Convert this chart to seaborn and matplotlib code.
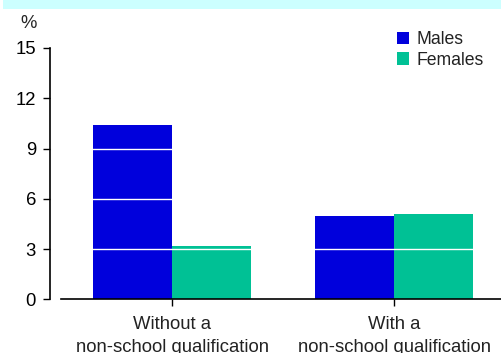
import matplotlib
matplotlib.use("Agg")
import matplotlib.pyplot as plt
from matplotlib.patches import Rectangle
import seaborn as sns
import pandas as pd

# Unemployment rate (%) by qualification status and sex
categories = ["Without a\nnon-school qualification", "With a\nnon-school qualification"]
males = [10.4, 5.0]
females = [3.2, 5.1]
series_names = ["Males", "Females"]
colors = ["#0000DC", "#00C195"]
y_ticks = [0, 3, 6, 9, 12, 15]

df = pd.DataFrame({
    "category": categories * 2,
    "sex": [series_names[0]] * len(categories) + [series_names[1]] * len(categories),
    "value": males + females,
})

sns.set_theme(style="white")
plt.rcParams["font.family"] = ["Liberation Sans", "DejaVu Sans"]
plt.rcParams["font.size"] = 13

fig = plt.figure(figsize=(5.02, 3.53), dpi=100)
ax = fig.add_axes([61 / 502, 1 - 299.3 / 353, 1 - 61 / 502, (299.3 - 48) / 353])

sns.barplot(data=df, x="category", y="value", hue="sex", hue_order=series_names,
            palette=colors, width=0.71, gap=0, saturation=1, ax=ax,
            edgecolor="none", linewidth=0)

ax.set_xlim(-0.5, 1.486)
ax.set_ylim(0, 15)
ax.set_yticks(y_ticks)
ax.set_yticklabels([str(t) for t in y_ticks], fontsize=13.3)
ax.set_xlabel("")
ax.set_ylabel("")

# white reference lines that show only across the bars
for t in y_ticks[1:-1]:
    ax.axhline(t, color="white", linewidth=1.0, zorder=5)

for side in ["top", "right"]:
    ax.spines[side].set_visible(False)
ax.spines["left"].set_position(("outward", 8))
ax.spines["left"].set_bounds(0, 15)
for side in ["left", "bottom"]:
    ax.spines[side].set_color("black")
    ax.spines[side].set_linewidth(1.2)

ax.tick_params(axis="y", direction="out", length=5, width=1.0, color="black",
               pad=5, labelsize=13.3, left=True, labelcolor="black")
ax.tick_params(axis="x", direction="out", length=5, width=1.0, color="black",
               pad=7, labelsize=13.3, bottom=True, labelcolor="#222222")
for lbl in ax.get_xticklabels():
    lbl.set_linespacing(1.45)

leg = ax.legend(loc="upper left", bbox_to_anchor=(397 / 502, 1 - 31 / 353),
                bbox_transform=fig.transFigure, frameon=False, fontsize=12.7,
                handlelength=0.7, handleheight=0.7, handletextpad=0.4,
                labelspacing=0.2, borderpad=0, borderaxespad=0)
for txt in leg.get_texts():
    txt.set_color("#222222")

fig.text(29 / 502, 1 - 23.5 / 353, "%", ha="center", va="center", fontsize=13.3)

# light cyan band across the top
fig.patches.append(Rectangle((3 / 502, 1 - 8.5 / 353), 1, 8.5 / 353,
                             transform=fig.transFigure, facecolor="#CCFFFF",
                             edgecolor="none", zorder=0))

fig.savefig("out.png", dpi=100)
